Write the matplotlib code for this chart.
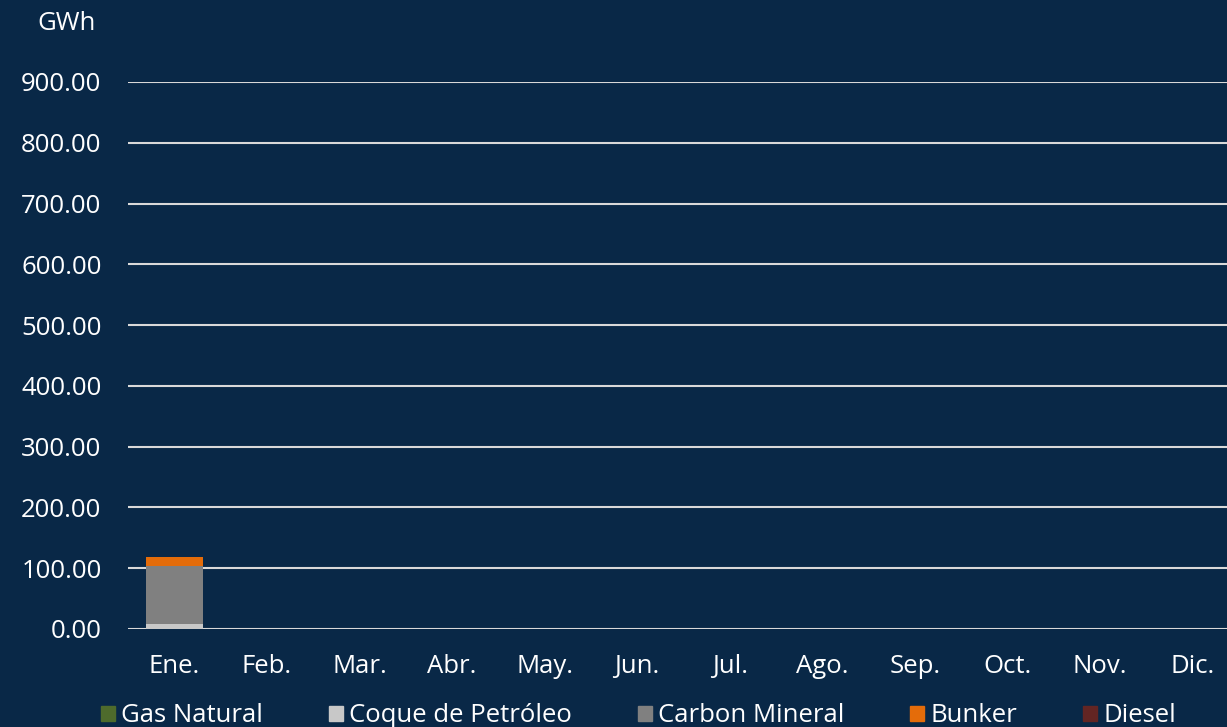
import matplotlib.pyplot as plt
import numpy as np
from matplotlib.patches import Patch

meses = ["Ene.", "Feb.", "Mar.", "Abr.", "May.", "Jun.",
         "Jul.", "Ago.", "Sep.", "Oct.", "Nov.", "Dic."]
series = ["Gas Natural", "Coque de Petróleo", "Carbon Mineral", "Bunker", "Diesel"]
colores = ["#4e6b2c", "#c8c8c8", "#808080", "#e46c0a", "#632523"]

gas_natural = [0.0] + [0.0] * 11
coque = [8.0] + [0.0] * 11
carbon = [96.0] + [0.0] * 11
bunker = [14.0] + [0.0] * 11
diesel = [0.8] + [0.0] * 11
valores = [gas_natural, coque, carbon, bunker, diesel]

yticks = [0, 100, 200, 300, 400, 500, 600, 700, 800, 900]

BG = "#092847"
plt.rcParams["font.family"] = ["Open Sans", "DejaVu Sans"]
FS = 18.5

fig = plt.figure(figsize=(12.27, 7.27), dpi=100, facecolor=BG)
ax = fig.add_axes([128 / 1227, 1 - 629 / 727, 1 - 128 / 1227, (629 - 82) / 727])
ax.set_facecolor(BG)

x = np.arange(len(meses))
base = np.zeros(len(meses))
for nombre, vals, col in zip(series, valores, colores):
    vals = np.array(vals)
    ax.bar(x, vals, 0.62, bottom=base, color=col, zorder=3)
    base += vals

ax.set_ylim(0, 900)
ax.set_xlim(-0.5, (1227 - 174) / 92.6)
ax.set_yticks(yticks)
ax.set_yticklabels([f"{v:.2f}" for v in yticks])
ax.set_xticks(x)
ax.set_xticklabels(meses)
ax.tick_params(axis="both", length=0, colors="white", labelsize=FS)
ax.tick_params(axis="x", pad=18)
ax.tick_params(axis="y", pad=19)
ax.yaxis.grid(True, color="#d9d9d9", linewidth=1.5, zorder=0)
for s in ax.spines.values():
    s.set_visible(False)

fig.text(67 / 1227, 1 - 23 / 727, "GWh", color="white", fontsize=FS,
         ha="center", va="center")

handles = [Patch(color=c) for c in colores]
leg = fig.legend(handles, series, loc="center", bbox_to_anchor=(0.5204, 1 - 716 / 727),
                 ncol=5, frameon=False, fontsize=FS, labelcolor="white",
                 handlelength=0.55, handleheight=0.55, handletextpad=0.25,
                 columnspacing=2.55)

fig.savefig("out.png", facecolor=BG)
